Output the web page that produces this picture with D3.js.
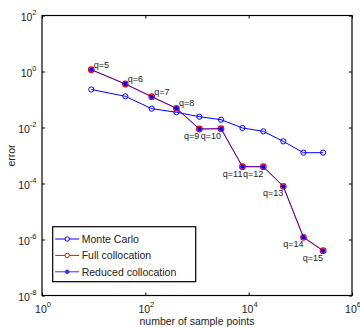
<!DOCTYPE html>
<html>
<head>
<meta charset="utf-8">
<script src="https://cdn.jsdelivr.net/npm/d3@7"></script>
<style>
  body { margin: 0; background: #fff; }
  text { font-family: "Liberation Sans", Arial, sans-serif; fill: #222; }
</style>
</head>
<body>
<div id="chart"></div>
<script>
"use strict";

// number of sample points (shared by all three methods)
var samplePoints = [9, 41, 133, 400, 1110, 2920, 7590, 19200, 46800, 115000, 276000];
var monteCarlo = [0.228, 0.130, 0.047, 0.035, 0.0243, 0.019, 0.0096, 0.0073, 0.0032, 0.00126, 0.00126];
var fullColloc = [1.16, 0.358, 0.126, 0.0485, 0.00884, 0.00906, 3.98e-4, 3.98e-4, 7.9e-5, 1.2e-6, 3.98e-7];
var reducedColloc = [1.16, 0.358, 0.126, 0.0485, 0.00884, 0.00906, 3.98e-4, 3.98e-4, 7.9e-5, 1.2e-6, 3.98e-7];
var qLabels = ["q=5", "q=6", "q=7", "q=8", "q=9", "q=10", "q=11", "q=12", "q=13", "q=14", "q=15"];
var seriesNames = ["Monte Carlo", "Full collocation", "Reduced collocation"];
var xTickExp = [0, 2, 4, 6];
var yTickExp = [2, 0, -2, -4, -6, -8];

var margin = {top: 15.5, right: 8, bottom: 31.5, left: 42},
    width = 360 - margin.left - margin.right,
    height = 327 - margin.top - margin.bottom;

var svg = d3.select("#chart")
            .append("svg")
            .attr("width", 360)
            .attr("height", 327)
            .append("g")
            .attr("transform", "translate(" + margin.left + "," + margin.top + ")");

var x = d3.scaleLog().domain([1, 1e6]).range([0, width]);
var y = d3.scaleLog().domain([1e-8, 1e2]).range([height, 0]);

var xTicks = xTickExp.map(function(e) { return Math.pow(10, e); });
var yTicks = yTickExp.map(function(e) { return Math.pow(10, e); });

// inward ticks on all four sides, labels only bottom/left
function styleAxis(g) {
  g.select(".domain").remove();
  g.selectAll(".tick line").attr("stroke", "#000");
  g.selectAll(".tick text").remove();
}

svg.append("g").attr("transform", "translate(0," + height + ")")
   .call(d3.axisBottom(x).tickValues(xTicks).tickSizeInner(-3).tickSizeOuter(0)).call(styleAxis);
svg.append("g")
   .call(d3.axisTop(x).tickValues(xTicks).tickSizeInner(-3).tickSizeOuter(0)).call(styleAxis);
svg.append("g")
   .call(d3.axisLeft(y).tickValues(yTicks).tickSizeInner(-3).tickSizeOuter(0)).call(styleAxis);
svg.append("g").attr("transform", "translate(" + width + ",0)")
   .call(d3.axisRight(y).tickValues(yTicks).tickSizeInner(-3).tickSizeOuter(0)).call(styleAxis);

svg.append("rect")
   .attr("width", width)
   .attr("height", height)
   .attr("fill", "none")
   .attr("stroke", "#000")
   .attr("stroke-width", 1.2);

// power-of-ten tick labels
var xLab = svg.selectAll(".xlab")
              .data(xTickExp)
              .enter()
              .append("text")
              .attr("class", "xlab")
              .attr("x", function(d) { return x(Math.pow(10, d)) + 1; })
              .attr("y", height + 17.5)
              .attr("text-anchor", "middle")
              .style("font-size", "10.5px");
xLab.append("tspan").text("10");
xLab.append("tspan").attr("dy", -6).style("font-size", "7.5px").text(function(d) { return d; });

var yLab = svg.selectAll(".ylab")
              .data(yTickExp)
              .enter()
              .append("text")
              .attr("class", "ylab")
              .attr("x", -5.5)
              .attr("y", function(d) { return y(Math.pow(10, d)) + 5.5; })
              .attr("text-anchor", "end")
              .style("font-size", "10.5px");
yLab.append("tspan").text("10");
yLab.append("tspan").attr("dy", -6).style("font-size", "7.5px").text(function(d) { return d; });

svg.append("text")
   .attr("x", width / 2)
   .attr("y", height + 29.3)
   .attr("text-anchor", "middle")
   .style("font-size", "10.5px")
   .text("number of sample points");

svg.append("text")
   .attr("transform", "translate(-27.5," + (height / 2) + ") rotate(-90)")
   .attr("text-anchor", "middle")
   .style("font-size", "10.5px")
   .text("error");

var line = d3.line()
             .x(function(d) { return x(d[0]); })
             .y(function(d) { return y(d[1]); });

var mcData = d3.zip(samplePoints, monteCarlo),
    fullData = d3.zip(samplePoints, fullColloc),
    redData = d3.zip(samplePoints, reducedColloc);

// Monte Carlo
svg.append("path").datum(mcData)
   .attr("d", line).attr("fill", "none").attr("stroke", "#0000ff").attr("stroke-width", 1);
svg.selectAll(".mc").data(mcData).enter().append("circle")
   .attr("cx", function(d) { return x(d[0]); })
   .attr("cy", function(d) { return y(d[1]); })
   .attr("r", 2.6)
   .attr("fill", "none")
   .attr("stroke", "#0000ff");

// full collocation (red) under reduced collocation (blue)
svg.append("path").datum(fullData)
   .attr("d", line).attr("fill", "none").attr("stroke", "#ff0000").attr("stroke-width", 1);
svg.selectAll(".full").data(fullData).enter().append("circle")
   .attr("cx", function(d) { return x(d[0]); })
   .attr("cy", function(d) { return y(d[1]); })
   .attr("r", 2.8)
   .attr("fill", "none")
   .attr("stroke", "#ff0000")
   .attr("stroke-width", 1.2);
svg.append("path").datum(redData)
   .attr("d", line).attr("fill", "none").attr("stroke", "#0000ff").attr("stroke-width", 1)
   .attr("stroke-opacity", 0.7);
svg.selectAll(".red").data(redData).enter().append("circle")
   .attr("cx", function(d) { return x(d[0]); })
   .attr("cy", function(d) { return y(d[1]); })
   .attr("r", 2.2)
   .attr("fill", "#0000ff");

// q labels: first four above-right, rest below-left
svg.selectAll(".qlab").data(redData).enter().append("text")
   .attr("x", function(d, i) { return i < 4 ? x(d[0]) + 2.5 : x(d[0]); })
   .attr("y", function(d, i) { return i < 4 ? y(d[1]) - 2 : y(d[1]) + 10; })
   .attr("text-anchor", function(d, i) { return i < 4 ? "start" : "end"; })
   .style("font-size", "9px")
   .text(function(d, i) { return qLabels[i]; });

// legend
var legend = svg.append("g").attr("transform", "translate(" + (52.7 - margin.left) + "," + (226.7 - margin.top) + ")");
legend.append("rect")
      .attr("width", 143)
      .attr("height", 55)
      .attr("fill", "#fff")
      .attr("stroke", "#000")
      .attr("stroke-width", 1.2);

var colors = ["#0000ff", "#ff0000", "#3333ff"];
var rows = legend.selectAll(".row").data(seriesNames).enter().append("g")
                 .attr("transform", function(d, i) { return "translate(0," + (12.3 + i * 16.4) + ")"; });
rows.append("line")
    .attr("x1", 2.5).attr("x2", 26.5)
    .attr("stroke", function(d, i) { return colors[i]; });
rows.append("circle")
    .attr("cx", 14.5)
    .attr("r", function(d, i) { return i == 2 ? 1.8 : 2.2; })
    .attr("fill", function(d, i) { return i == 2 ? colors[i] : "#fff"; })
    .attr("stroke", function(d, i) { return colors[i]; });
rows.append("text")
    .attr("x", 29)
    .attr("y", 4)
    .style("font-size", "10.5px")
    .text(function(d) { return d; });
</script>
</body>
</html>
